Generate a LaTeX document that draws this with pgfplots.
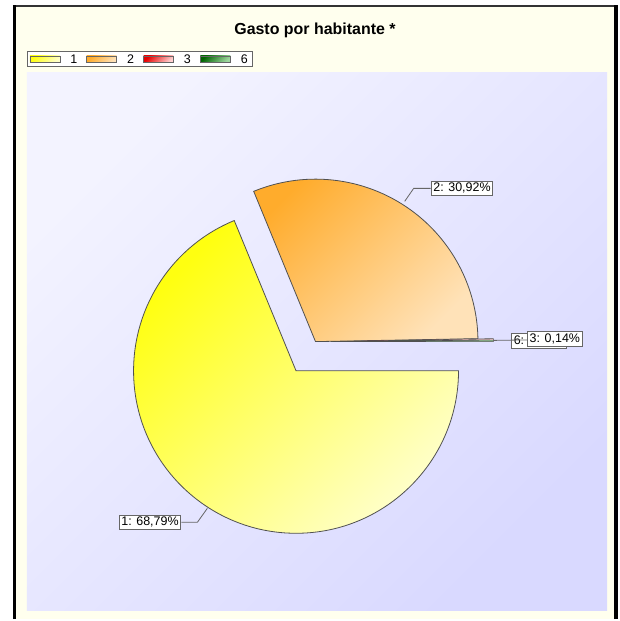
\documentclass[border=0pt]{standalone}
\usepackage{pgfplots}
\pgfplotsset{compat=1.18}
\usepackage{pgfplotstable}
\usepackage{fontspec}
\setmainfont{Liberation Sans}
\definecolor{cream}{HTML}{FFFFEE}
\definecolor{bgA}{HTML}{F3F3FF}
\definecolor{bgB}{HTML}{D9D9FF}
\definecolor{yA}{HTML}{FFFF10}
\definecolor{yB}{HTML}{FFFFC8}
\definecolor{oA}{HTML}{FFAC2C}
\definecolor{oB}{HTML}{FFE2B8}
\definecolor{rA}{HTML}{E80000}
\definecolor{rB}{HTML}{FFD0D0}
\definecolor{gA}{HTML}{006400}
\definecolor{gB}{HTML}{A0D8A0}
\definecolor{edge}{HTML}{505050}
\tikzset{
  s1/.style={top color=yA,bottom color=yB,shading angle=45,draw=edge,line width=0.8pt},
  s2/.style={top color=oA,bottom color=oB,shading angle=45,draw=edge,line width=0.8pt},
  s3/.style={top color=rA,bottom color=rB,shading angle=45,draw=edge,line width=0.6pt},
  s6/.style={top color=gA,bottom color=gB,shading angle=45,draw=edge,line width=0.6pt},
  lab/.style={draw=black!60,fill=white,inner xsep=2pt,inner ysep=2pt,font=\fontsize{12.5}{14}\selectfont,line width=0.8pt},
  lead/.style={draw=black!60,line width=0.8pt}
}
\pgfplotstableread{
label value
1 68.79
2 30.92
3 0.14
6 0.15
}\pietable
\begin{document}
\begin{tikzpicture}
\begin{axis}[hide axis, clip=false, x=1pt, y=1pt, xmin=0, xmax=620, ymin=0, ymax=621,
  anchor=origin, at={(0,0)}]
\pgfplotsextra{
  % page and frame
  \fill[white] (axis cs:0,0) rectangle (axis cs:620,621);
  \fill[cream] (axis cs:15,0) rectangle (axis cs:617,614);
  \shade[top color=bgA, bottom color=bgB, shading angle=45] (axis cs:27,9) rectangle (axis cs:609,548);
  \draw[black!80, line width=2pt] (axis cs:13,614.5) -- (axis cs:620,614.5);
  \draw[black, line width=3.5pt] (axis cs:14.5,0) -- (axis cs:14.5,615.5);
  \draw[black, line width=4pt] (axis cs:617.5,0) -- (axis cs:617.5,615.5);
  % title
  \node[font=\fontsize{16}{19}\selectfont\bfseries] at (axis cs:316,591) {Gasto por habitante *};
  % legend
  \draw[black!60, fill=white, line width=0.8pt] (axis cs:27,554) rectangle (axis cs:253,569);
  \shadedraw[s1, line width=0.6pt, draw=black!60] (axis cs:30,558) rectangle (axis cs:60,565);
  \node[anchor=west, font=\fontsize{12.5}{14}\selectfont] at (axis cs:67,561.5) {1};
  \shadedraw[s2, line width=0.6pt, draw=black!60] (axis cs:87,558) rectangle (axis cs:117,565);
  \node[anchor=west, font=\fontsize{12.5}{14}\selectfont] at (axis cs:124,561.5) {2};
  \shadedraw[s3, line width=0.6pt, draw=black!60] (axis cs:144,558) rectangle (axis cs:174,565);
  \node[anchor=west, font=\fontsize{12.5}{14}\selectfont] at (axis cs:181,561.5) {3};
  \shadedraw[s6, line width=0.6pt, draw=black!60] (axis cs:201,558) rectangle (axis cs:231,565);
  \node[anchor=west, font=\fontsize{12.5}{14}\selectfont] at (axis cs:238,561.5) {6};
  % pie slices from the data table (clockwise from east), with their offsets
  \gdef\cum{0}
  \foreach \i/\st/\dx/\dy in {0/s1/0/0,1/s2/19.5/29.3,2/s3/35/29.3,3/s6/35/29.3}{
    \pgfplotstablegetelem{\i}{value}\of\pietable
    \let\v\pgfplotsretval
    \pgfmathsetmacro\sa{-\cum*3.6}
    \pgfmathsetmacro\ea{-(\cum+\v)*3.6}
    \pgfmathsetmacro\vx{297+\dx}
    \pgfmathsetmacro\vy{249+\dy}
    \pgfmathparse{\cum+\v}\xdef\cum{\pgfmathresult}
    \shadedraw[\st] (axis cs:\vx,\vy) -- ++(\sa:163pt) arc[start angle=\sa, end angle=\ea, radius=163pt] -- cycle;
  }
  % labels
  \draw[lead] (axis cs:208,111) -- (axis cs:198,97) -- (axis cs:182,97);
  \node[lab] at (axis cs:150.5,97) {1: 68,79\%};
  \draw[lead] (axis cs:406,419) -- (axis cs:415,432) -- (axis cs:432,432);
  \node[lab] at (axis cs:463.5,432) {2: 30,92\%};
  \node[lab, anchor=west] at (axis cs:513,279) {6: 0,15\%};
  \draw[lead] (axis cs:495,279.5) -- (axis cs:530,280);
  \node[lab, anchor=west] at (axis cs:529,281) {3: 0,14\%};
}
\end{axis}
\end{tikzpicture}
\end{document}
